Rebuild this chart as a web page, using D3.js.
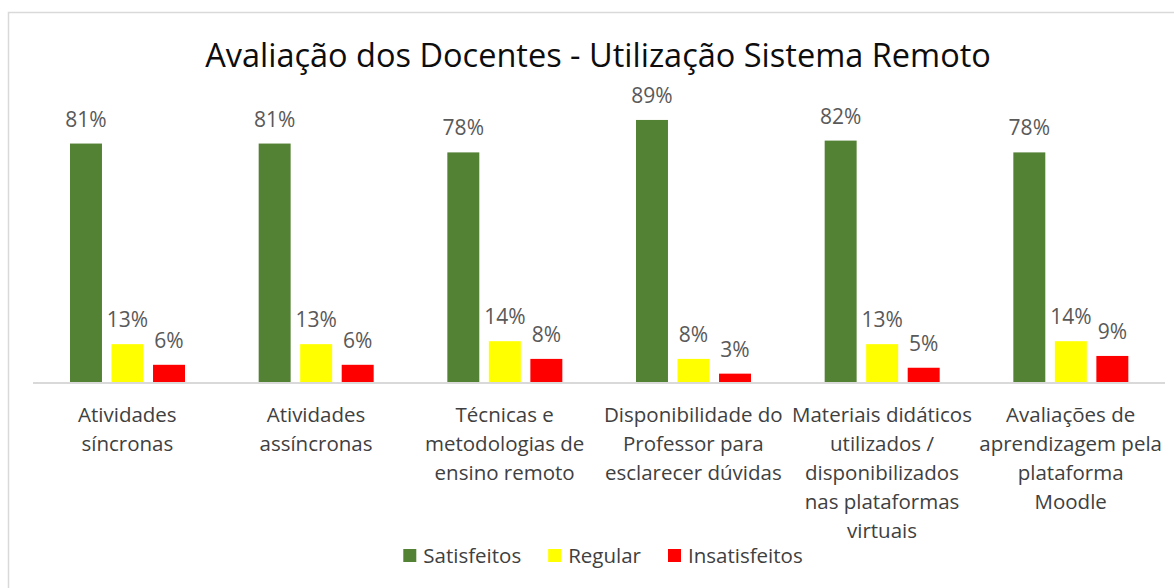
<!DOCTYPE html>
<html>
<head>
<meta charset="utf-8">
<script src="https://cdn.jsdelivr.net/npm/d3@7"></script>
<style>
  body { margin: 0; background: #fff; }
  text { font-family: "Open Sans", sans-serif; }
</style>
</head>
<body>
<div id="chart"></div>
<script>
const categories = [
    ['Atividades', 'síncronas'],
    ['Atividades', 'assíncronas'],
    ['Técnicas e', 'metodologias de', 'ensino remoto'],
    ['Disponibilidade do', 'Professor para', 'esclarecer dúvidas'],
    ['Materiais didáticos', 'utilizados /', 'disponibilizados', 'nas plataformas', 'virtuais'],
    ['Avaliações de', 'aprendizagem pela', 'plataforma', 'Moodle']
]
const seriesNames = ['Satisfeitos', 'Regular', 'Insatisfeitos']
const satisfeitos = [81, 81, 78, 89, 82, 78]
const regular = [13, 13, 14, 8, 13, 14]
const insatisfeitos = [6, 6, 8, 3, 5, 9]
const colors = ['#548235', '#FFFF00', '#FF0000']

const width = 1174, height = 588
const seriesValues = [satisfeitos, regular, insatisfeitos]
const keys = categories.map((c, i) => i)

const svg = d3.select('#chart').append('svg')
    .attr('width', width)
    .attr('height', height)

svg.append('rect')
    .attr('width', width).attr('height', height)
    .attr('fill', '#fff')

// chart frame, runs past the right/bottom edge like the screenshot
svg.append('rect')
    .attr('x', 8.5).attr('y', 12.5)
    .attr('width', 1200).attr('height', 620)
    .attr('fill', 'none')
    .attr('stroke', '#d9d9d9')
    .attr('stroke-width', 1.5)

svg.append('text')
    .text('Avaliação dos Docentes - Utilização Sistema Remoto')
    .attr('x', 598).attr('y', 67)
    .attr('text-anchor', 'middle')
    .attr('font-size', '32.5px')
    .attr('fill', '#0d0d0d')

const x0 = d3.scaleBand().domain(keys).range([33, 1165])
const x1 = d3.scaleBand().domain(seriesNames).range([37, 152]).paddingInner(0.23)
const y = d3.scaleLinear().domain([0, 100]).range([382.5, 87.5])

const groups = svg.append('g').selectAll('g')
    .data(keys)
    .join('g')
    .attr('transform', d => `translate(${x0(d)},0)`)

const bars = groups.selectAll('g.bar')
    .data(i => seriesNames.map((s, j) => ({s, j, v: seriesValues[j][i]})))
    .join('g')
    .attr('class', 'bar')

bars.append('rect')
    .attr('x', d => x1(d.s))
    .attr('width', x1.bandwidth())
    .attr('y', d => y(d.v))
    .attr('height', d => y(0) - y(d.v))
    .attr('fill', d => colors[d.j])

bars.append('text')
    .text(d => d.v + '%')
    .attr('x', d => x1(d.s) + x1.bandwidth() / 2)
    .attr('y', d => y(d.v) - 17)
    .attr('text-anchor', 'middle')
    .attr('font-size', '21px')
    .attr('fill', '#595959')

// baseline
svg.append('line')
    .attr('x1', x0.range()[0]).attr('x2', x0.range()[1])
    .attr('y1', y(0) + 0.5).attr('y2', y(0) + 0.5)
    .attr('stroke', '#d9d9d9')
    .attr('stroke-width', 2)

const catLabels = svg.append('g').selectAll('text')
    .data(keys)
    .join('text')
    .attr('text-anchor', 'middle')
    .attr('font-size', '20.5px')
    .attr('fill', '#404040')
catLabels.selectAll('tspan')
    .data(i => categories[i].map(line => ({line, i})))
    .join('tspan')
    .attr('x', d => x0(d.i) + x0.bandwidth() / 2)
    .attr('y', (d, k) => 422 + k * 29)
    .text(d => d.line)

// legend, laid out from measured text widths
const legend = svg.append('g')
const items = legend.selectAll('g')
    .data(seriesNames)
    .join('g')
items.append('rect')
    .attr('width', 13).attr('height', 13)
    .attr('y', 549)
    .attr('fill', (d, i) => colors[i])
items.append('text')
    .text(d => d)
    .attr('x', 20)
    .attr('y', 563)
    .attr('font-size', '20.5px')
    .attr('fill', '#404040')
let cursor = 0
const offsets = []
items.each(function () {
    offsets.push(cursor)
    cursor += 20 + this.querySelector('text').getComputedTextLength() + 27
})
cursor -= 27
const start = 603 - cursor / 2
items.attr('transform', (d, i) => `translate(${start + offsets[i]},0)`)
</script>
</body>
</html>
